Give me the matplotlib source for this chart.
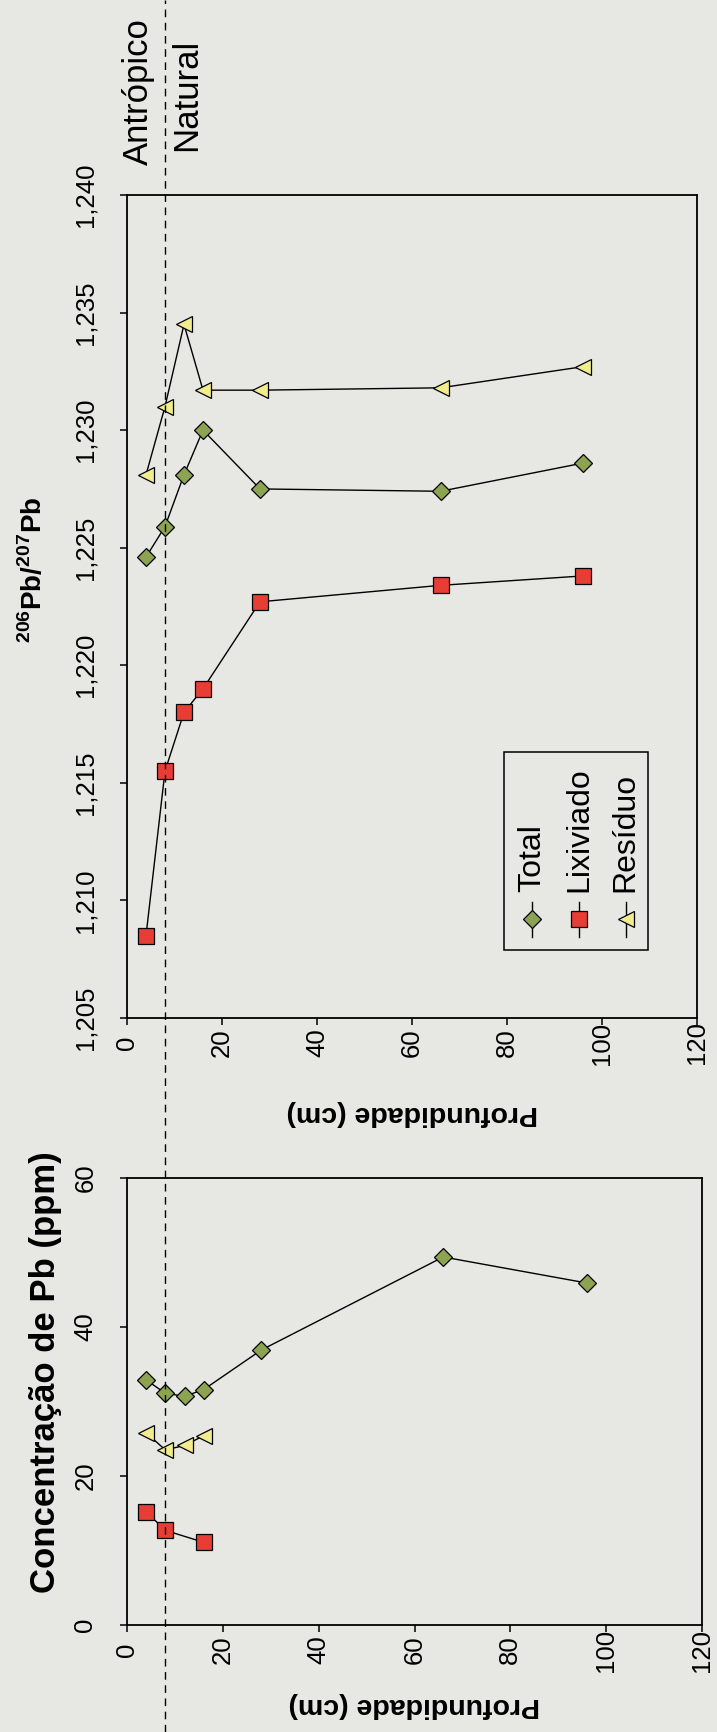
import numpy as np
import matplotlib
matplotlib.use("Agg")
import matplotlib.pyplot as plt
from matplotlib.lines import Line2D
from matplotlib.patches import Rectangle
from matplotlib.ticker import FuncFormatter, MultipleLocator
import matplotlib.transforms as mtransforms

plt.rcParams['font.family'] = ['Liberation Sans', 'DejaVu Sans']
plt.rcParams['mathtext.fontset'] = 'custom'
plt.rcParams['mathtext.rm'] = 'Liberation Sans'
plt.rcParams['mathtext.bf'] = 'Liberation Sans:bold'

# depths (cm)
depth = [4, 8, 12, 16, 28, 66, 96]

# 206Pb/207Pb ratios
ratio_total = [1.2246, 1.2259, 1.2281, 1.2300, 1.2275, 1.2274, 1.2286]
ratio_lix = [1.2085, 1.2155, 1.2180, 1.2190, 1.2227, 1.2234, 1.2238]
ratio_res = [1.2281, 1.2310, 1.2345, 1.2317, 1.2317, 1.2318, 1.2327]

# Pb concentration (ppm)
conc_total = [32.9, 31.1, 30.7, 31.6, 36.9, 49.4, 45.9]
depth_lix = [4, 8, 16]
conc_lix = [15.2, 12.7, 11.1]
depth_res = [4, 8, 12, 16]
conc_res = [25.8, 23.5, 24.1, 25.4]

boundary_depth = 8  # Antropico / Natural

series_names = ['Total', 'Lixiviado', 'Resíduo']

bg = '#e7e7e3'
green = '#8ca352'
red = '#e63d35'
yellow = '#f1ec8e'

styles = {
    'Total': dict(marker='D', mfc=green, ms=9),
    'Lixiviado': dict(marker='s', mfc=red, ms=11),
    'Resíduo': dict(marker='<', mfc=yellow, ms=11),
}

W, H = 717, 1732
fig = plt.figure(figsize=(W / 100, H / 100), dpi=100, facecolor=bg)
ax1 = fig.add_axes([127 / W, 1 - 1018 / H, 570 / W, 823 / H])
ax2 = fig.add_axes([127 / W, 1 - 1625 / H, 575 / W, 447 / H])

def style_axis(ax):
    ax.set_facecolor('none')
    for s in ax.spines.values():
        s.set_linewidth(1.3)
    ax.tick_params(direction='out', length=5, width=1.1, labelsize=18.5,
                   top=False, right=False)
    ax.tick_params(axis='y', pad=25)
    ax.tick_params(axis='x', pad=13)
    for lab in ax.get_yticklabels():
        lab.set_rotation(90)
        lab.set_ha('center')
        lab.set_va('center')
    for lab in ax.get_xticklabels():
        lab.set_rotation(90)
        lab.set_ha('center')
        lab.set_va('center')
    ax.set_xlim(0, 120)
    ax.xaxis.set_major_locator(MultipleLocator(20))

line_kw = dict(color='black', lw=1.0, mec='black', mew=0.9)

# top panel: isotope ratio
ax1.plot(depth, ratio_res, **line_kw, **styles['Resíduo'])
ax1.plot(depth, ratio_total, **line_kw, **styles['Total'])
ax1.plot(depth, ratio_lix, **line_kw, **styles['Lixiviado'])
ax1.set_ylim(1.205, 1.240)
ax1.yaxis.set_major_locator(MultipleLocator(0.005))
ax1.yaxis.set_major_formatter(FuncFormatter(lambda v, p: f'{v:.3f}'.replace('.', ',')))
style_axis(ax1)

# bottom panel: concentration
ax2.plot(depth_res, conc_res, **line_kw, **styles['Resíduo'])
ax2.plot(depth, conc_total, **line_kw, **styles['Total'])
ax2.plot(depth_lix, conc_lix, **line_kw, **styles['Lixiviado'])
ax2.set_ylim(0, 60)
ax2.yaxis.set_major_locator(MultipleLocator(20))
style_axis(ax2)

# axis labels (rotated page)
ax1.text(-0.165, 0.545, r'$^{\mathbf{206}}\mathbf{Pb/}^{\mathbf{207}}\mathbf{Pb}$',
         transform=ax1.transAxes, rotation=90, ha='center', va='center', fontsize=20)
ax2.text(-0.142, 0.566, 'Concentração de Pb (ppm)', transform=ax2.transAxes,
         rotation=90, ha='center', va='center', fontsize=25, fontweight='bold')
for ax, yy in [(ax1, -0.115), (ax2, -0.18)]:
    ax.text(0.5, yy, 'Profundidade (cm)', transform=ax.transAxes, rotation=180,
            ha='center', va='center', fontsize=20.5, fontweight='bold')

# boundary line through whole page
trans = mtransforms.blended_transform_factory(ax1.transData, fig.transFigure)
fig.add_artist(Line2D([boundary_depth, boundary_depth], [0, 1], transform=trans,
                      color='black', lw=1.0, dashes=(5.5, 4)))
fig.text(boundary_depth - 5.5, 1 - 165 / H, 'Antrópico', transform=trans,
         rotation=90, ha='center', va='bottom', fontsize=25)
fig.text(boundary_depth + 4.5, 1 - 151 / H, 'Natural', transform=trans,
         rotation=90, ha='center', va='bottom', fontsize=25)

# legend, drawn rotated like the rest of the page
ax1.add_patch(Rectangle((0.661, 0.083), 0.253, 0.240, transform=ax1.transAxes,
                        fill=False, ec='black', lw=1.1))
for xl, name in zip([0.711, 0.793, 0.875], series_names):
    ax1.add_line(Line2D([xl, xl], [0.098, 0.141], transform=ax1.transAxes,
                        color='black', lw=1.0))
    ax1.add_line(Line2D([xl], [0.12], transform=ax1.transAxes, ls='none',
                        mec='black', mew=0.9, **styles[name]))
    ax1.text(xl, 0.153, name, transform=ax1.transAxes, rotation=90,
             ha='center', va='bottom', fontsize=23)

fig.savefig('out.png', dpi=100, facecolor=bg)
